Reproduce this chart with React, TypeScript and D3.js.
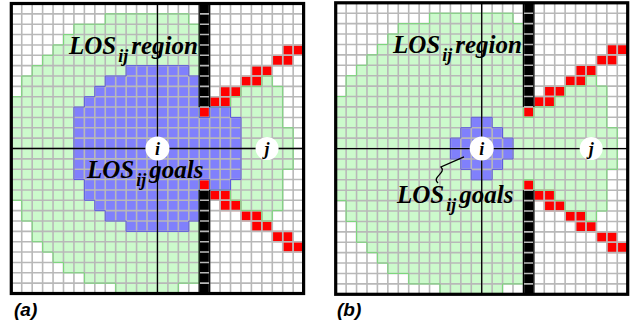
import React from "react"
import * as d3 from "d3"

// [row, first column, last column] on a 28 x 28 cell grid
type Span = [number, number, number]

const gridSize = 28

// cells that can be seen from i (the light green area), same in both panels
const losRegion: Span[] = [
    [1, 9, 16],
    [2, 6, 17],
    [3, 5, 17],
    [4, 4, 17],
    [5, 3, 17],
    [6, 2, 17],
    [7, 1, 17], [7, 24, 24],
    [8, 1, 17], [8, 22, 25],
    [9, 0, 17], [9, 21, 25],
    [10, 0, 17], [10, 19, 25],
    [11, 0, 25],
    [12, 0, 26],
    [13, 0, 26],
    [14, 0, 26],
    [15, 0, 26],
    [16, 0, 25],
    [17, 0, 17], [17, 19, 25],
    [18, 0, 17], [18, 21, 25],
    [19, 1, 17], [19, 22, 25],
    [20, 1, 17], [20, 24, 24],
    [21, 2, 17],
    [22, 2, 17],
    [23, 3, 17],
    [24, 4, 17],
    [25, 5, 17],
    [26, 7, 17],
    [27, 10, 15],
]

// goal cells (blue) of panel (a)
const goalsA: Span[] = [
    [6, 11, 16],
    [7, 9, 17],
    [8, 8, 17],
    [9, 7, 17],
    [10, 6, 17], [10, 19, 20],
    [11, 6, 21],
    [12, 6, 21],
    [13, 6, 21],
    [14, 6, 21],
    [15, 6, 21],
    [16, 6, 21],
    [17, 7, 17], [17, 19, 20],
    [18, 7, 17],
    [19, 8, 17],
    [20, 9, 17],
    [21, 11, 16],
]

// goal cells (blue) of panel (b)
const goalsB: Span[] = [
    [11, 13, 14],
    [12, 12, 15],
    [13, 11, 16],
    [14, 11, 16],
    [15, 12, 15],
    [16, 13, 14],
]

// red boundary cells of the shadow
const shadowEdge: Span[] = [
    [4, 26, 27],
    [5, 25, 26],
    [6, 23, 24],
    [7, 22, 23],
    [8, 20, 21],
    [9, 19, 20],
    [10, 18, 18],
    [17, 18, 18],
    [18, 19, 20],
    [19, 20, 21],
    [20, 22, 23],
    [21, 23, 24],
    [22, 25, 26],
    [23, 26, 27],
]

// black obstacle column
const wallColumn = 18
const wallRows = [0, 1, 2, 3, 4, 5, 6, 7, 8, 9, 18, 19, 20, 21, 22, 23, 24, 25, 26, 27]

const centerLine = 14
const jColumn = 24.5

type Cell = { r: number; c: number }

const expand = (spans: Span[]): Cell[] => {
    const out: Cell[] = []
    spans.forEach(([r, a, b]) => {
        for (let c = a; c <= b; c++) out.push({ r, c })
    })
    return out
}

// boundary edges of a set of cells, in grid units
const outline = (cells: Cell[]) => {
    const key = (r: number, c: number) => `${r},${c}`
    const set = new Set(cells.map((d) => key(d.r, d.c)))
    const segs: [number, number, number, number][] = []
    cells.forEach(({ r, c }) => {
        if (!set.has(key(r - 1, c))) segs.push([c, r, c + 1, r])
        if (!set.has(key(r + 1, c))) segs.push([c, r + 1, c + 1, r + 1])
        if (!set.has(key(r, c - 1))) segs.push([c, r, c, r + 1])
        if (!set.has(key(r, c + 1))) segs.push([c + 1, r, c + 1, r + 1])
    })
    return segs
}

interface PanelProps {
    left: number
    top: number
    right: number
    bottom: number
    goals: Span[]
    regionLabel: [number, number]
    goalsLabel: [number, number]
    tag: string
    tagX: number
    leader?: boolean
}

const serif = "'Liberation Serif', 'Times New Roman', serif"
const sans = "'Liberation Sans', Arial, sans-serif"

const LosLabel = ({ x, y, word }: { x: number; y: number; word: string }) => (
    <text x={x} y={y} fontFamily={serif} fontWeight="bold" fontStyle="italic" fontSize={25} fill="#000">
        LOS
        <tspan dx={2} dy={8} fontSize={18}>ij</tspan>
        <tspan dx={3} dy={-8}>{word}</tspan>
    </text>
)

const Panel = ({ left, top, right, bottom, goals, regionLabel, goalsLabel, tag, tagX, leader }: PanelProps) => {
    const x = d3.scaleLinear().domain([0, gridSize]).range([left, right])
    const y = d3.scaleLinear().domain([0, gridSize]).range([top, bottom])
    const green = expand(losRegion)
    const blue = expand(goals)
    const red = expand(shadowEdge)
    const wall = wallRows.map((r) => ({ r, c: wallColumn }))
    const lines = d3.range(gridSize + 1)

    const rects = (cells: Cell[], fill: string, key: string, stroke?: string) =>
        cells.map((d) => (
            <rect
                key={`${key}${d.r}-${d.c}`}
                x={x(d.c)}
                y={y(d.r)}
                width={x(d.c + 1) - x(d.c)}
                height={y(d.r + 1) - y(d.r)}
                fill={fill}
                stroke={stroke ?? "none"}
                strokeWidth={stroke ? 1.4 : 0}
            />
        ))

    const edges = (cells: Cell[], color: string, key: string) =>
        outline(cells).map(([c1, r1, c2, r2], i) => (
            <line key={`${key}${i}`} x1={x(c1)} y1={y(r1)} x2={x(c2)} y2={y(r2)} stroke={color} strokeWidth={1} />
        ))

    return (
        <g>
            <rect x={left} y={top} width={right - left} height={bottom - top} fill="#fff" />
            {rects(green, "#ccfacc", "g")}
            {rects(blue, "#8080fc", "b")}
            {rects(red, "#ff0000", "r", "#ff8a8a")}
            {rects(wall, "#000", "w")}
            {lines.map((i) => (
                <line key={`v${i}`} x1={x(i)} x2={x(i)} y1={top} y2={bottom} stroke="#b8b8b8" strokeWidth={1.6} />
            ))}
            {lines.map((i) => (
                <line key={`h${i}`} x1={left} x2={right} y1={y(i)} y2={y(i)} stroke="#b8b8b8" strokeWidth={1.6} />
            ))}
            {edges(green, "#7ad97a", "eg")}
            {edges(blue, "#5a5ae0", "eb")}
            <line x1={x(wallColumn)} x2={x(wallColumn)} y1={top} y2={y(10)} stroke="#000" strokeWidth={1.2} />
            <line x1={x(wallColumn + 1)} x2={x(wallColumn + 1)} y1={top} y2={y(10)} stroke="#000" strokeWidth={1.2} />
            <line x1={x(wallColumn)} x2={x(wallColumn)} y1={y(18)} y2={bottom} stroke="#000" strokeWidth={1.2} />
            <line x1={x(wallColumn + 1)} x2={x(wallColumn + 1)} y1={y(18)} y2={bottom} stroke="#000" strokeWidth={1.2} />
            <rect x={left} y={top} width={right - left} height={bottom - top} fill="none" stroke="#000" strokeWidth={3.2} />
            <line x1={x(centerLine)} x2={x(centerLine)} y1={top} y2={bottom} stroke="#000" strokeWidth={1.3} />
            <line x1={left} x2={right} y1={y(centerLine)} y2={y(centerLine)} stroke="#000" strokeWidth={1.3} />
            <circle cx={x(centerLine)} cy={y(centerLine)} r={12} fill="#fff" />
            <text x={x(centerLine)} y={y(centerLine) + 6} textAnchor="middle" fontFamily={serif} fontWeight="bold" fontStyle="italic" fontSize={18}>
                i
            </text>
            <circle cx={x(jColumn)} cy={y(centerLine)} r={11.5} fill="#fff" />
            <text x={x(jColumn)} y={y(centerLine) + 6} textAnchor="middle" fontFamily={serif} fontWeight="bold" fontStyle="italic" fontSize={18}>
                j
            </text>
            <LosLabel x={regionLabel[0]} y={regionLabel[1]} word="region" />
            <LosLabel x={goalsLabel[0]} y={goalsLabel[1]} word="goals" />
            {leader && (
                <path
                    d={`M${goalsLabel[0] + 41},${goalsLabel[1] - 20} C${goalsLabel[0] + 34},${goalsLabel[1] - 26} ${goalsLabel[0] + 50},${goalsLabel[1] - 30} ${goalsLabel[0] + 44},${goalsLabel[1] - 36} L${x(12.3)},${y(14.8)}`}
                    fill="none"
                    stroke="#000"
                    strokeWidth={1.3}
                />
            )}
            <text x={tagX} y={316} fontFamily={sans} fontWeight="bold" fontStyle="italic" fontSize={19}>
                {tag}
            </text>
        </g>
    )
}

export default function App() {
    return (
        <svg width={635} height={322} style={{ position: "absolute", left: 0, top: 0, background: "#fff" }}>
            <Panel left={11.3} top={3.5} right={303.6} bottom={293.5} goals={goalsA} regionLabel={[69, 54]} goalsLabel={[87, 178]} tag="(a)" tagX={14} />
            <Panel
                left={335.7}
                top={2.8}
                right={627.7}
                bottom={294.3}
                goals={goalsB}
                regionLabel={[393, 53]}
                goalsLabel={[397, 203]}
                tag="(b)"
                tagX={337}
                leader
            />
        </svg>
    )
}
